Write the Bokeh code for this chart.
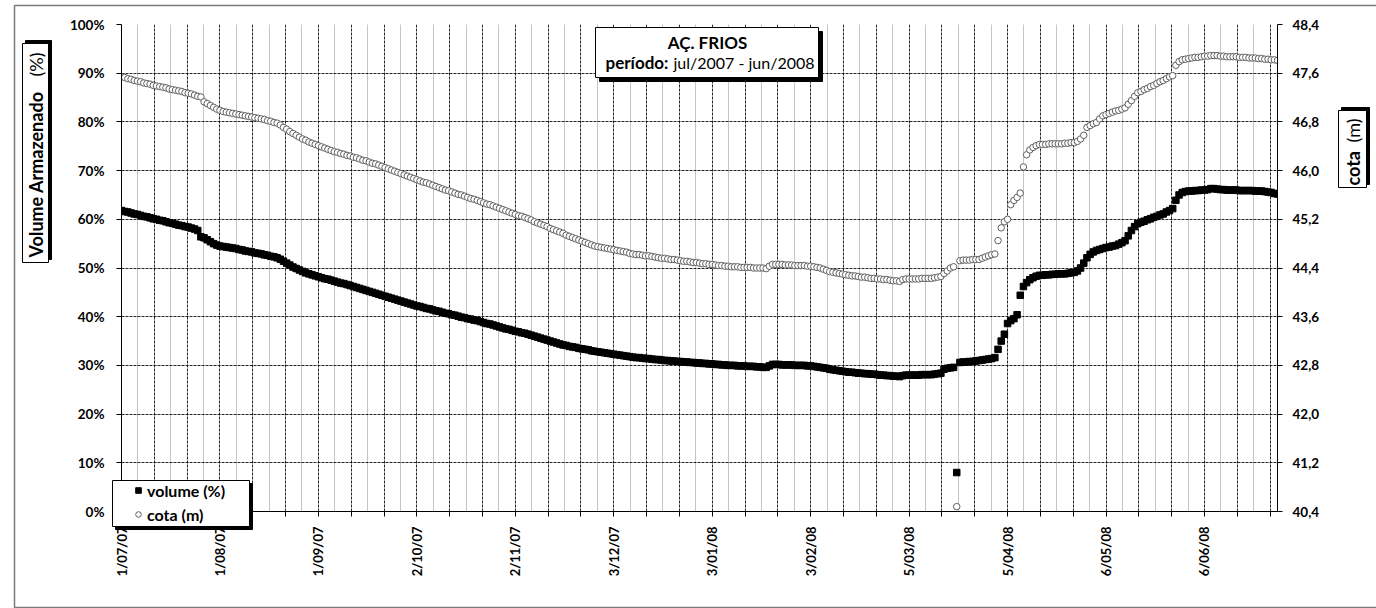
import math
from bokeh.plotting import figure
from bokeh.models import (Range1d, LinearAxis, FixedTicker, Label, BoxAnnotation,
                          Legend, LegendItem, PrintfTickFormatter)
from bokeh.embed import file_html
from bokeh.resources import INLINE

# ---------------- data (daily, 1/07/2007 .. 29/06/2008) ----------------
volume = [
61.8,61.6,61.5,61.3,61.1,61.0,60.8,60.6,60.5,60.3,
60.1,60.0,59.8,59.7,59.5,59.3,59.2,59.0,58.8,58.7,
58.5,58.4,58.2,58.0,57.7,56.4,56.2,55.8,55.4,55.0,
54.7,54.5,54.4,54.3,54.2,54.1,54.0,53.8,53.7,53.5,
53.4,53.3,53.1,53.0,52.9,52.7,52.6,52.4,52.3,52.1,
51.8,51.4,51.0,50.6,50.2,49.9,49.6,49.3,49.0,48.8,
48.6,48.4,48.2,48.0,47.8,47.7,47.5,47.3,47.1,46.9,
46.8,46.6,46.4,46.2,46.0,45.8,45.6,45.4,45.2,45.0,
44.8,44.6,44.4,44.2,44.0,43.8,43.6,43.4,43.2,43.0,
42.8,42.6,42.4,42.2,42.1,41.9,41.7,41.6,41.4,41.2,
41.1,40.9,40.7,40.6,40.4,40.3,40.1,39.9,39.8,39.6,
39.5,39.3,39.2,39.0,38.8,38.6,38.5,38.3,38.1,37.9,
37.7,37.5,37.4,37.2,37.0,36.9,36.7,36.6,36.4,36.2,
36.0,35.8,35.6,35.4,35.2,35.0,34.8,34.6,34.4,34.2,
34.1,33.9,33.8,33.7,33.5,33.4,33.3,33.2,33.0,32.9,
32.8,32.7,32.6,32.5,32.4,32.3,32.2,32.1,32.0,31.9,
31.8,31.7,31.6,31.6,31.5,31.4,31.4,31.3,31.2,31.2,
31.1,31.0,31.0,30.9,30.9,30.8,30.8,30.7,30.7,30.6,
30.6,30.5,30.5,30.4,30.4,30.3,30.3,30.2,30.2,30.1,
30.1,30.0,30.0,30.0,29.9,29.9,29.9,29.8,29.8,29.8,
29.7,29.7,29.6,29.6,29.9,30.2,30.2,30.2,30.1,30.1,
30.1,30.1,30.0,30.0,30.0,30.0,29.9,29.9,29.8,29.7,
29.6,29.5,29.4,29.2,29.1,29.0,28.9,28.8,28.7,28.6,
28.6,28.5,28.4,28.4,28.3,28.3,28.2,28.2,28.1,28.0,
28.0,27.9,27.9,27.8,27.8,27.7,27.9,28.0,28.0,28.0,
28.0,28.0,28.1,28.1,28.1,28.1,28.2,28.3,28.4,29.2,
29.4,29.5,29.6,8.0,30.6,30.7,30.7,30.8,30.8,30.9,
31.0,31.1,31.2,31.3,31.4,31.6,33.3,35.0,36.4,38.6,
39.2,39.6,40.4,44.4,46.2,47.0,47.6,48.0,48.3,48.5,
48.5,48.6,48.6,48.7,48.7,48.8,48.8,48.8,48.9,49.0,
49.1,49.4,50.0,51.0,52.1,52.8,53.3,53.6,53.8,54.0,
54.2,54.3,54.5,54.6,54.9,55.2,55.6,56.6,57.7,58.5,
59.1,59.4,59.6,59.9,60.1,60.4,60.6,60.9,61.1,61.5,
61.8,62.2,63.9,65.0,65.5,65.7,65.8,65.8,65.9,65.9,
66.0,66.0,66.1,66.3,66.3,66.2,66.1,66.1,66.0,66.0,
66.0,66.0,65.9,65.9,65.9,65.9,65.9,65.8,65.8,65.8,
65.7,65.6,65.5,65.3,65.2]

cota = [
47.54,47.53,47.51,47.50,47.48,47.47,47.46,47.44,47.43,47.42,
47.40,47.39,47.38,47.37,47.36,47.34,47.33,47.32,47.31,47.30,
47.28,47.27,47.26,47.24,47.22,47.21,47.13,47.10,47.07,47.04,
47.01,46.99,46.97,46.96,46.95,46.94,46.93,46.92,46.91,46.90,
46.89,46.88,46.87,46.86,46.85,46.84,46.82,46.81,46.79,46.78,
46.75,46.71,46.68,46.64,46.61,46.58,46.55,46.52,46.50,46.47,
46.45,46.43,46.41,46.39,46.37,46.35,46.33,46.31,46.30,46.28,
46.27,46.25,46.24,46.22,46.21,46.19,46.17,46.16,46.14,46.12,
46.11,46.09,46.07,46.05,46.03,46.01,45.99,45.97,45.95,45.93,
45.91,45.89,45.87,45.85,45.83,45.81,45.80,45.78,45.76,45.74,
45.72,45.70,45.68,45.67,45.65,45.63,45.61,45.60,45.58,45.56,
45.54,45.53,45.51,45.49,45.47,45.45,45.44,45.42,45.40,45.38,
45.36,45.34,45.32,45.30,45.28,45.26,45.25,45.23,45.21,45.19,
45.16,45.14,45.12,45.10,45.08,45.05,45.03,45.01,44.99,44.97,
44.94,44.92,44.90,44.88,44.86,44.84,44.82,44.80,44.78,44.76,
44.75,44.74,44.73,44.72,44.71,44.70,44.69,44.68,44.67,44.66,
44.64,44.63,44.62,44.62,44.61,44.60,44.60,44.59,44.58,44.57,
44.56,44.56,44.55,44.54,44.54,44.53,44.52,44.51,44.51,44.50,
44.49,44.49,44.48,44.47,44.47,44.46,44.46,44.45,44.44,44.44,
44.43,44.43,44.42,44.42,44.42,44.41,44.41,44.41,44.41,44.40,
44.40,44.40,44.40,44.39,44.43,44.46,44.46,44.46,44.46,44.45,
44.45,44.45,44.44,44.44,44.44,44.44,44.43,44.43,44.42,44.41,
44.40,44.38,44.36,44.34,44.33,44.32,44.31,44.30,44.29,44.28,
44.27,44.27,44.26,44.25,44.25,44.24,44.23,44.23,44.22,44.22,
44.21,44.21,44.20,44.19,44.19,44.18,44.21,44.22,44.22,44.22,
44.22,44.22,44.23,44.23,44.23,44.23,44.24,44.25,44.26,44.31,
44.35,44.40,44.42,40.48,44.52,44.53,44.53,44.53,44.54,44.54,
44.54,44.56,44.58,44.60,44.62,44.63,44.85,45.06,45.16,45.20,
45.44,45.51,45.56,45.63,46.06,46.26,46.34,46.38,46.41,46.43,
46.43,46.43,46.44,46.44,46.44,46.44,46.44,46.45,46.45,46.46,
46.46,46.48,46.52,46.58,46.71,46.74,46.77,46.79,46.85,46.90,
46.92,46.94,46.96,46.98,46.99,47.01,47.03,47.09,47.15,47.22,
47.28,47.30,47.33,47.35,47.38,47.40,47.43,47.46,47.48,47.51,
47.54,47.56,47.73,47.79,47.82,47.83,47.84,47.85,47.86,47.86,
47.87,47.88,47.88,47.89,47.89,47.89,47.88,47.88,47.87,47.87,
47.87,47.87,47.86,47.86,47.86,47.85,47.85,47.85,47.84,47.84,
47.83,47.83,47.82,47.82,47.81]

dias = list(range(len(volume)))          # day index from 1/07/2007

rotulos_datas = ["1/07/07", "1/08/07", "1/09/07", "2/10/07", "2/11/07", "3/12/07",
                 "3/01/08", "3/02/08", "5/03/08", "5/04/08", "6/05/08", "6/06/08"]
rotulos_dias = [0, 31, 62, 93, 124, 155, 186, 217, 248, 279, 310, 341]

volume_ticks = [0, 10, 20, 30, 40, 50, 60, 70, 80, 90, 100]
cota_ticks = [40.4, 41.2, 42.0, 42.8, 43.6, 44.4, 45.2, 46.0, 46.8, 47.6, 48.4]
cota_rotulos = ["40,4", "41,2", "42,0", "42,8", "43,6", "44,4", "45,2", "46,0", "46,8", "47,6", "48,4"]

titulo = "AÇ. FRIOS"
periodo_rotulo = "período:"
periodo_valor = "jul/2007 - jun/2008"
legenda_volume = "volume (%)"
legenda_cota = "cota (m)"

FONT = "Lato"

# ---------------- main figure ----------------
W, H = 1376, 608
FL, FR, FT, FB = 121, 1277, 24, 511   # plot-area edges in page px

p = figure(width=W, height=H, x_range=Range1d(0, 364), y_range=Range1d(0, 100),
           output_backend="svg", toolbar_location=None,
           min_border_left=FL, min_border_right=W - FR,
           min_border_top=FT, min_border_bottom=H - FB)
p.outline_line_color = None
p.background_fill_color = "white"
p.border_fill_color = "white"
p.extra_y_ranges = {"cota": Range1d(40.4, 48.4)}

# x axis
major_x = [(i * 31) / 3 for i in range(36)]
minor_x = [((2 * i + 1) * 31) / 6 for i in range(35)]
overrides = {t: "" for t in major_x}
for d, s in zip(rotulos_dias, rotulos_datas):
    overrides[float(d)] = s
xa = p.xaxis[0]
xa.ticker = FixedTicker(ticks=major_x, minor_ticks=[])
xa.major_label_overrides = overrides
xa.major_label_orientation = math.pi / 2
xa.major_tick_out = 5
xa.major_tick_in = 0
xa.minor_tick_out = 0
xa.major_label_standoff = 10
xa.axis_line_color = "black"
xa.major_tick_line_color = "black"
xa.major_label_text_font = FONT
xa.major_label_text_font_style = "bold"
xa.major_label_text_font_size = "13px"
xa.major_label_text_color = "black"

# left axis
ya = p.yaxis[0]
ya.ticker = FixedTicker(ticks=volume_ticks, minor_ticks=[])
ya.formatter = PrintfTickFormatter(format="%d%%")
ya.major_tick_out = 5
ya.major_tick_in = 0
ya.minor_tick_out = 0
ya.major_label_standoff = 12
ya.axis_line_color = "black"
ya.major_label_text_font = FONT
ya.major_label_text_font_style = "bold"
ya.major_label_text_font_size = "13.5px"
ya.major_label_text_color = "black"

# right axis
ra = LinearAxis(y_range_name="cota",
                ticker=FixedTicker(ticks=cota_ticks, minor_ticks=[]),
                major_label_overrides=dict(zip(cota_ticks, cota_rotulos)))
ra.major_tick_out = 5
ra.major_tick_in = 0
ra.minor_tick_out = 0
ra.major_label_standoff = 10
ra.axis_line_color = "black"
ra.major_label_text_font = FONT
ra.major_label_text_font_style = "bold"
ra.major_label_text_font_size = "13.5px"
ra.major_label_text_color = "black"
p.add_layout(ra, "right")

# grids
p.xgrid.ticker = FixedTicker(ticks=major_x, minor_ticks=minor_x)
p.xgrid.grid_line_color = "black"
p.xgrid.grid_line_dash = "3 1"
p.xgrid.grid_line_alpha = 0.85
p.xgrid.minor_grid_line_color = "#8a8a8a"
p.xgrid.minor_grid_line_dash = "1 1"
p.ygrid.ticker = FixedTicker(ticks=volume_ticks)
p.ygrid.grid_line_color = "black"
p.ygrid.grid_line_dash = "3 1"
p.ygrid.grid_line_alpha = 0.85

# series
COTA_STYLE = dict(marker="circle", size=6.5, fill_color="white", line_color="#606060", line_width=1)
VOL_STYLE = dict(marker="square", size=6.5, fill_color="black", line_color="black")
p.scatter(dias, cota, y_range_name="cota", **COTA_STYLE)
p.scatter(dias, volume, **VOL_STYLE)

# ---------------- overlay figure (page-pixel space) for boxes, titles, legend ----------------
o = figure(width=W, height=H, x_range=Range1d(0, W), y_range=Range1d(H, 0),
           output_backend="svg", toolbar_location=None,
           x_axis_type=None, y_axis_type=None, min_border=0)
o.outline_line_color = None
o.background_fill_alpha = 0
o.border_fill_alpha = 0
o.styles = {"position": "absolute", "left": "0px", "top": "0px"}

def caixa(l, t, r, b, fill="white", line="black", fill_alpha=1.0, lw=1):
    o.add_layout(BoxAnnotation(left=l, right=r, top=t, bottom=b,
                               fill_color=fill, fill_alpha=fill_alpha,
                               line_color=line, line_alpha=1, line_width=lw))

def rotulo(x, y, txt, size, style="bold", align="center", angle=0):
    o.add_layout(Label(x=x, y=y, text=txt, text_font=FONT, text_font_size=size,
                       text_font_style=style, text_align=align, text_baseline="middle",
                       angle=angle, text_color="black"))

# outer chart border
caixa(14, 5, 1390, 607, fill=None, line="#7a7a7a", fill_alpha=0, lw=1.5)

# title box with shadow
caixa(599, 31, 822, 81, fill="black")
caixa(595, 27, 818, 77)
rotulo(707, 42, titulo, "17px")
rotulo(668, 62, periodo_rotulo, "17px", align="right")
rotulo(673, 62, periodo_valor, "16px", style="normal", align="left")

# left axis title
caixa(25, 40, 51, 259, fill="black")
caixa(22, 43, 48, 262)
rotulo(35, 257, "Volume Armazenado", "18px", align="left", angle=math.pi / 2)
rotulo(35, 52, "(%)", "18px", style="normal", align="right", angle=math.pi / 2)

# right axis title
caixa(1341, 107, 1369, 184, fill="black")
caixa(1338, 110, 1366, 187)
rotulo(1352, 185, "cota", "18px", align="left", angle=math.pi / 2)
rotulo(1352, 118, "(m)", "18px", style="normal", align="right", angle=math.pi / 2)

# legend box with shadow
caixa(115, 483, 252, 529, fill="black")
caixa(112, 480, 249, 526)

# legend-only renderers (a single NaN point each, nothing is drawn in the plot area)
nan = float("nan")
r_leg_vol = o.scatter(x=[nan], y=[nan], **VOL_STYLE)
r_leg_cota = o.scatter(x=[nan], y=[nan], **COTA_STYLE)
legend = Legend(items=[LegendItem(label=legenda_volume, renderers=[r_leg_vol]),
                       LegendItem(label=legenda_cota, renderers=[r_leg_cota])],
                location=(131, H - 524), orientation="vertical",
                padding=0, margin=0, spacing=4,
                glyph_width=14, glyph_height=20, label_height=20, label_standoff=2,
                label_text_font=FONT, label_text_font_style="bold",
                label_text_font_size="16px", label_text_color="black",
                background_fill_alpha=0, border_line_color=None)
o.add_layout(legend)

open("out.html", "w").write(file_html([p, o], INLINE))
